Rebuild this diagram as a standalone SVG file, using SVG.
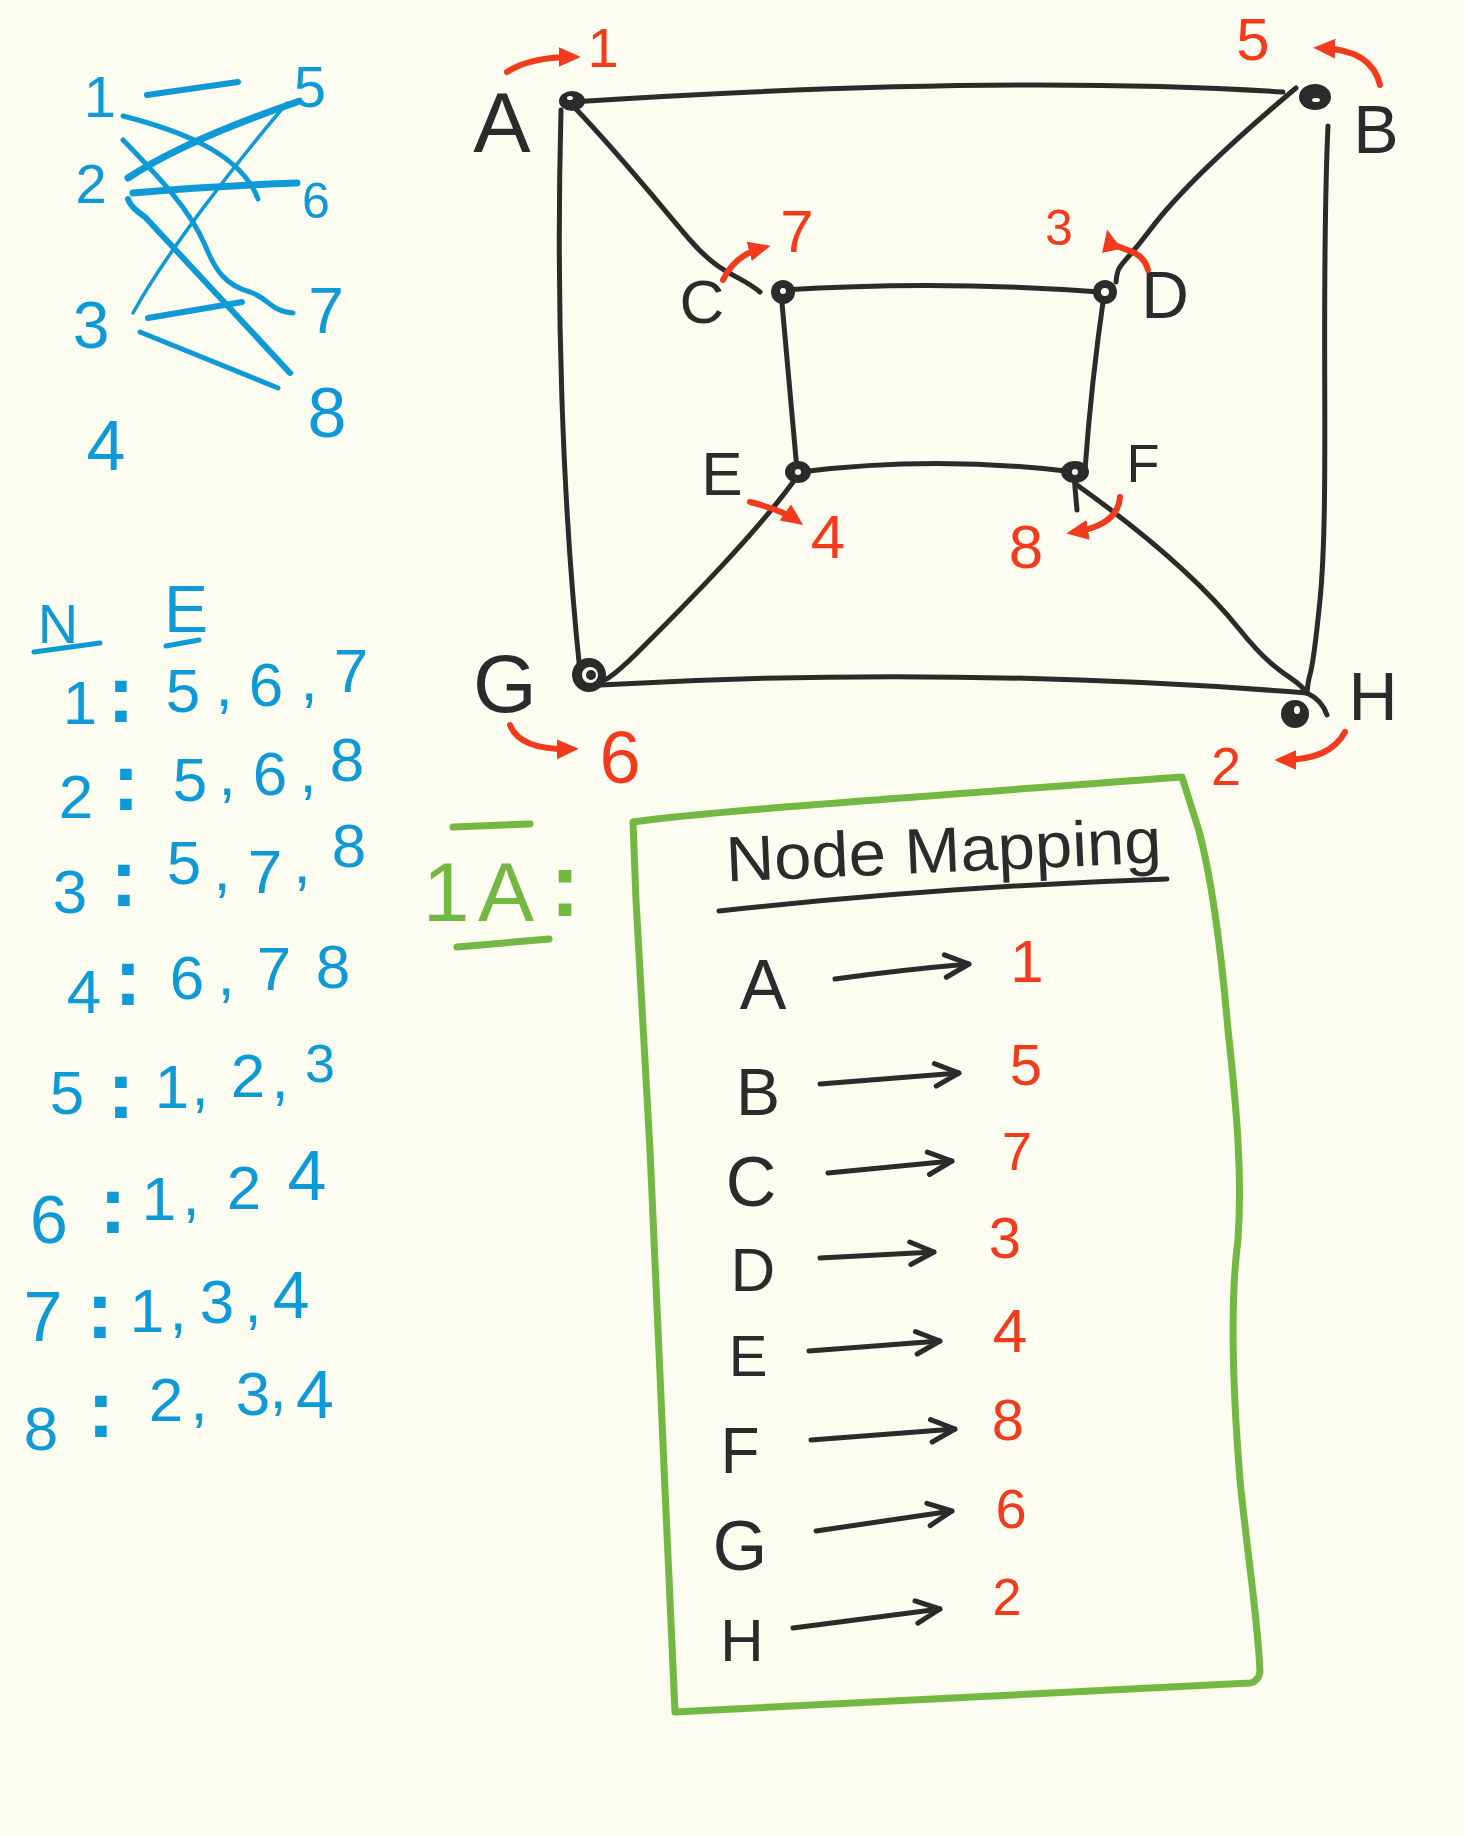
<svg xmlns="http://www.w3.org/2000/svg" width="1464" height="1836" viewBox="0 0 1464 1836">
<style>
text{font-family:"Liberation Sans","DejaVu Sans",sans-serif;text-anchor:middle}
.blk{fill:#2b2b2b}
.red{fill:#f23b1d}
.blu{fill:#0e9ad6}
.grn{fill:#72b843}
.edge{fill:none;stroke:#2b2b2b;stroke-width:5;stroke-linecap:round;stroke-linejoin:round}
.bl{fill:none;stroke:#0e9ad6;stroke-linecap:round;stroke-linejoin:round}
.ra{fill:none;stroke:#f23b1d;stroke-width:6;stroke-linecap:round;marker-end:url(#rh)}
.ma{fill:none;stroke:#2b2b2b;stroke-width:5;stroke-linecap:round;marker-end:url(#bh)}
.gl{fill:none;stroke:#72b843;stroke-width:7;stroke-linecap:round;stroke-linejoin:round}
.dot{fill:#2b2b2b}
.hole{fill:#fdfcf0}
</style>
<defs>
<marker id="rh" viewBox="0 0 10 10" refX="6" refY="5" markerWidth="22" markerHeight="22" markerUnits="userSpaceOnUse" orient="auto"><path d="M0,0.5 L10,5 L0,9.5 Z" fill="#f23b1d"/></marker>
<marker id="bh" viewBox="0 0 12 12" refX="11" refY="6" markerWidth="30" markerHeight="30" markerUnits="userSpaceOnUse" orient="auto"><path d="M1.5,1.5 L11,6 L1.5,10.5" fill="none" stroke="#2b2b2b" stroke-width="2" stroke-linecap="round" stroke-linejoin="round"/></marker>
</defs>
<rect width="1464" height="1836" fill="#fdfcf0"/>

<!-- Bipartite sketch -->
<g id="bipartite">
<g class="blu" font-size="58">
<text x="100" y="117">1</text>
<text x="91" y="203" font-size="56">2</text>
<text x="91" y="348" font-size="66">3</text>
<text x="106" y="470" font-size="70">4</text>
<text x="310" y="107">5</text>
<text x="316" y="218" font-size="50">6</text>
<text x="326" y="333" font-size="64">7</text>
<text x="327" y="437" font-size="70">8</text>
</g>
<path class="bl" stroke-width="6" d="M147,95 L238,82"/>
<path class="bl" stroke-width="5" d="M123,116 C170,128 240,150 258,199"/>
<path class="bl" stroke-width="7" d="M128,178 C170,150 230,125 297,102"/>
<path class="bl" stroke-width="7" d="M133,193 Q210,186 297,183"/>
<path class="bl" stroke-width="3.5" d="M133,313 C165,255 230,170 287,103"/>
<path class="bl" stroke-width="5" d="M123,140 C160,178 190,210 205,245 C215,270 225,285 250,292 C268,298 272,312 293,313"/>
<path class="bl" stroke-width="6" d="M128,199 Q130,207 145,217 L290,373"/>
<path class="bl" stroke-width="6" d="M148,318 L242,302"/>
<path class="bl" stroke-width="5" d="M140,332 L278,388"/>
</g>

<!-- Adjacency list -->
<g id="adjacency" class="blu" font-size="62">
<text x="58" y="643" font-size="56">N</text>
<text x="186" y="632" font-size="66">E</text>
<path class="bl" stroke-width="5" d="M34,652 L100,643 M166,646 L199,640"/>
<text><tspan x="80" y="724">1</tspan><tspan x="183" y="712">5</tspan><tspan x="224" y="706">,</tspan><tspan x="266" y="706">6</tspan><tspan x="309" y="700">,</tspan><tspan x="351" y="692">7</tspan></text>
<text><tspan x="76" y="818">2</tspan><tspan x="190" y="801">5</tspan><tspan x="227" y="795">,</tspan><tspan x="270" y="795">6</tspan><tspan x="308" y="792">,</tspan><tspan x="347" y="781">8</tspan></text>
<text><tspan x="70" y="913">3</tspan><tspan x="184" y="884">5</tspan><tspan x="222" y="890">,</tspan><tspan x="265" y="893">7</tspan><tspan x="302" y="883">,</tspan><tspan x="349" y="867">8</tspan></text>
<text><tspan x="84" y="1013">4</tspan><tspan x="187" y="999">6</tspan><tspan x="226" y="995">,</tspan><tspan x="274" y="990">7</tspan><tspan x="333" y="988">8</tspan></text>
<text><tspan x="67" y="1114">5</tspan><tspan x="172" y="1108">1</tspan><tspan x="200" y="1105">,</tspan><tspan x="248" y="1097">2</tspan><tspan x="280" y="1098">,</tspan><tspan x="320" y="1082" font-size="54">3</tspan></text>
<text><tspan x="49" y="1243" font-size="68">6</tspan><tspan x="159" y="1220">1</tspan><tspan x="191" y="1215">,</tspan><tspan x="244" y="1209">2</tspan><tspan x="307" y="1200" font-size="70">4</tspan></text>
<text><tspan x="43" y="1341" font-size="70">7</tspan><tspan x="147" y="1332">1</tspan><tspan x="178" y="1330">,</tspan><tspan x="217" y="1323">3</tspan><tspan x="253" y="1322">,</tspan><tspan x="291" y="1318" font-size="66">4</tspan></text>
<text><tspan x="41" y="1450">8</tspan><tspan x="166" y="1421">2</tspan><tspan x="199" y="1420">,</tspan><tspan x="253" y="1415">3</tspan><tspan x="278" y="1408">,</tspan><tspan x="315" y="1418" font-size="68">4</tspan></text>
<g font-size="82" font-weight="bold">
<text x="121" y="722">:</text>
<text x="126" y="810">:</text>
<text x="124" y="906">:</text>
<text x="128" y="1005">:</text>
<text x="121" y="1118">:</text>
<text x="113" y="1233">:</text>
<text x="100" y="1338">:</text>
<text x="101" y="1437">:</text>
</g>
</g>

<!-- Main graph connectors -->
<g id="connectors">
<path class="edge" d="M571,102 Q1000,74 1283,92"/>
<path class="edge" d="M1296,88 C1240,135 1180,190 1150,230 S1118,262 1116,282"/>
<path class="edge" d="M1328,126 C1320,300 1330,500 1320,600 S1310,660 1307,693 Q1322,700 1327,715"/>
<path class="edge" d="M561,110 C556,300 562,500 580,672"/>
<path class="edge" d="M575,108 C620,155 660,205 690,240 S740,275 760,292"/>
<path class="edge" d="M783,290 Q940,280 1100,292"/>
<path class="edge" d="M781,292 L797,470"/>
<path class="edge" d="M1104,295 C1096,350 1090,400 1085,470"/>
<path class="edge" d="M800,472 Q935,455 1075,472"/>
<path class="edge" d="M798,475 C760,530 680,610 640,650 S600,680 596,680"/>
<path class="edge" d="M600,685 Q950,665 1307,693"/>
<path class="edge" d="M1077,485 C1140,530 1200,580 1240,630 S1295,675 1307,693"/>
<path class="edge" d="M1074,476 L1077,510"/>
</g>

<!-- Nodes -->
<g id="node-A">
<ellipse class="dot" cx="572" cy="101" rx="13" ry="10"/><ellipse class="hole" cx="570" cy="98" rx="3" ry="2"/>
<text class="blk" x="502" y="152" font-size="86">A</text>
<path class="ra" d="M507,72 Q530,57 572,57"/>
<text class="red" x="603" y="67" font-size="56">1</text>
</g>
<g id="node-B">
<ellipse class="dot" cx="1315" cy="97" rx="16" ry="13"/><ellipse class="hole" cx="1316" cy="100" rx="4" ry="2"/>
<text class="blk" x="1376" y="153" font-size="68">B</text>
<path class="ra" d="M1380,85 Q1372,50 1322,48"/>
<text class="red" x="1253" y="60" font-size="60">5</text>
</g>
<g id="node-C">
<circle class="dot" cx="783" cy="292" r="12"/><circle class="hole" cx="783" cy="291" r="3"/>
<text class="blk" x="702" y="323" font-size="62">C</text>
<path class="ra" d="M723,280 Q735,255 762,248"/>
<text class="red" x="797" y="252" font-size="60">7</text>
</g>
<g id="node-D">
<circle class="dot" cx="1105" cy="292" r="12"/><circle class="hole" cx="1105" cy="292" r="4"/>
<text class="blk" x="1165" y="318" font-size="66">D</text>
<path class="ra" d="M1148,270 C1142,245 1112,252 1109,238"/>
<text class="red" x="1059" y="245" font-size="50">3</text>
</g>
<g id="node-E">
<ellipse class="dot" cx="798" cy="472" rx="13" ry="11"/><circle class="hole" cx="798" cy="472" r="3"/>
<text class="blk" x="722" y="495" font-size="62">E</text>
<path class="ra" d="M750,502 Q782,510 796,520"/>
<text class="red" x="828" y="558" font-size="62">4</text>
</g>
<g id="node-F">
<ellipse class="dot" cx="1075" cy="472" rx="14" ry="11"/><circle class="hole" cx="1075" cy="472" r="3"/>
<text class="blk" x="1143" y="482" font-size="54">F</text>
<path class="ra" d="M1120,497 Q1118,525 1075,532"/>
<text class="red" x="1026" y="568" font-size="62">8</text>
</g>
<g id="node-G">
<circle class="dot" cx="589" cy="675" r="17"/><circle class="hole" cx="590" cy="675" r="8"/><circle class="dot" cx="591" cy="675" r="5"/>
<text class="blk" x="505" y="712" font-size="82">G</text>
<path class="ra" d="M510,725 Q520,750 570,749"/>
<text class="red" x="620" y="783" font-size="74">6</text>
</g>
<g id="node-H">
<circle class="dot" cx="1295" cy="714" r="14"/><ellipse class="hole" cx="1297" cy="710" rx="3" ry="4"/>
<text class="blk" x="1373" y="720" font-size="68">H</text>
<path class="ra" d="M1345,732 Q1330,760 1283,760"/>
<text class="red" x="1226" y="785" font-size="54">2</text>
</g>

<!-- 1A label -->
<g id="label-1A" class="grn">
<text font-size="84"><tspan x="446" y="921">1</tspan><tspan x="506" y="921">A</tspan></text>
<text x="565" y="916" font-size="90" font-weight="bold">:</text>
<path class="gl" stroke-width="8" d="M453,827 L530,824 M457,947 L549,939"/>
</g>

<!-- Node mapping box -->
<g id="mapping">
<path class="gl" d="M633,822 C700,812 900,798 1182,777 L1199,831 C1212,880 1222,960 1228,1030 C1238,1120 1242,1180 1238,1240 C1230,1300 1232,1380 1240,1480 C1248,1560 1258,1620 1260,1672 Q1258,1682 1250,1683 L675,1712 C672,1640 668,1560 665,1490 C660,1380 655,1250 650,1150 C645,1050 640,960 636,900 Z"/>
<text class="blk" x="944" y="872" font-size="64" textLength="436" lengthAdjust="spacingAndGlyphs" transform="rotate(-2.5 944 860)">Node Mapping</text>
<path class="edge" d="M719,911 Q950,886 1167,879"/>
<g class="blk">
<text x="763" y="1009" font-size="70">A</text>
<text x="758" y="1115" font-size="66">B</text>
<text x="751" y="1206" font-size="70">C</text>
<text x="753" y="1291" font-size="62">D</text>
<text x="748" y="1376" font-size="58">E</text>
<text x="740" y="1473" font-size="64">F</text>
<text x="740" y="1570" font-size="70">G</text>
<text x="742" y="1661" font-size="60">H</text>
</g>
<path class="ma" d="M835,979 Q900,970 969,964"/>
<path class="ma" d="M820,1084 L959,1073"/>
<path class="ma" d="M828,1173 L952,1161"/>
<path class="ma" d="M820,1258 L934,1252"/>
<path class="ma" d="M809,1351 L940,1341"/>
<path class="ma" d="M811,1440 L955,1429"/>
<path class="ma" d="M816,1531 L952,1511"/>
<path class="ma" d="M793,1628 L940,1609"/>
<g class="red">
<text x="1027" y="982" font-size="60">1</text>
<text x="1026" y="1085" font-size="58">5</text>
<text x="1017" y="1170" font-size="54">7</text>
<text x="1005" y="1258" font-size="58">3</text>
<text x="1010" y="1352" font-size="62">4</text>
<text x="1008" y="1440" font-size="58">8</text>
<text x="1011" y="1528" font-size="56">6</text>
<text x="1007" y="1615" font-size="52">2</text>
</g>
</g>
</svg>
